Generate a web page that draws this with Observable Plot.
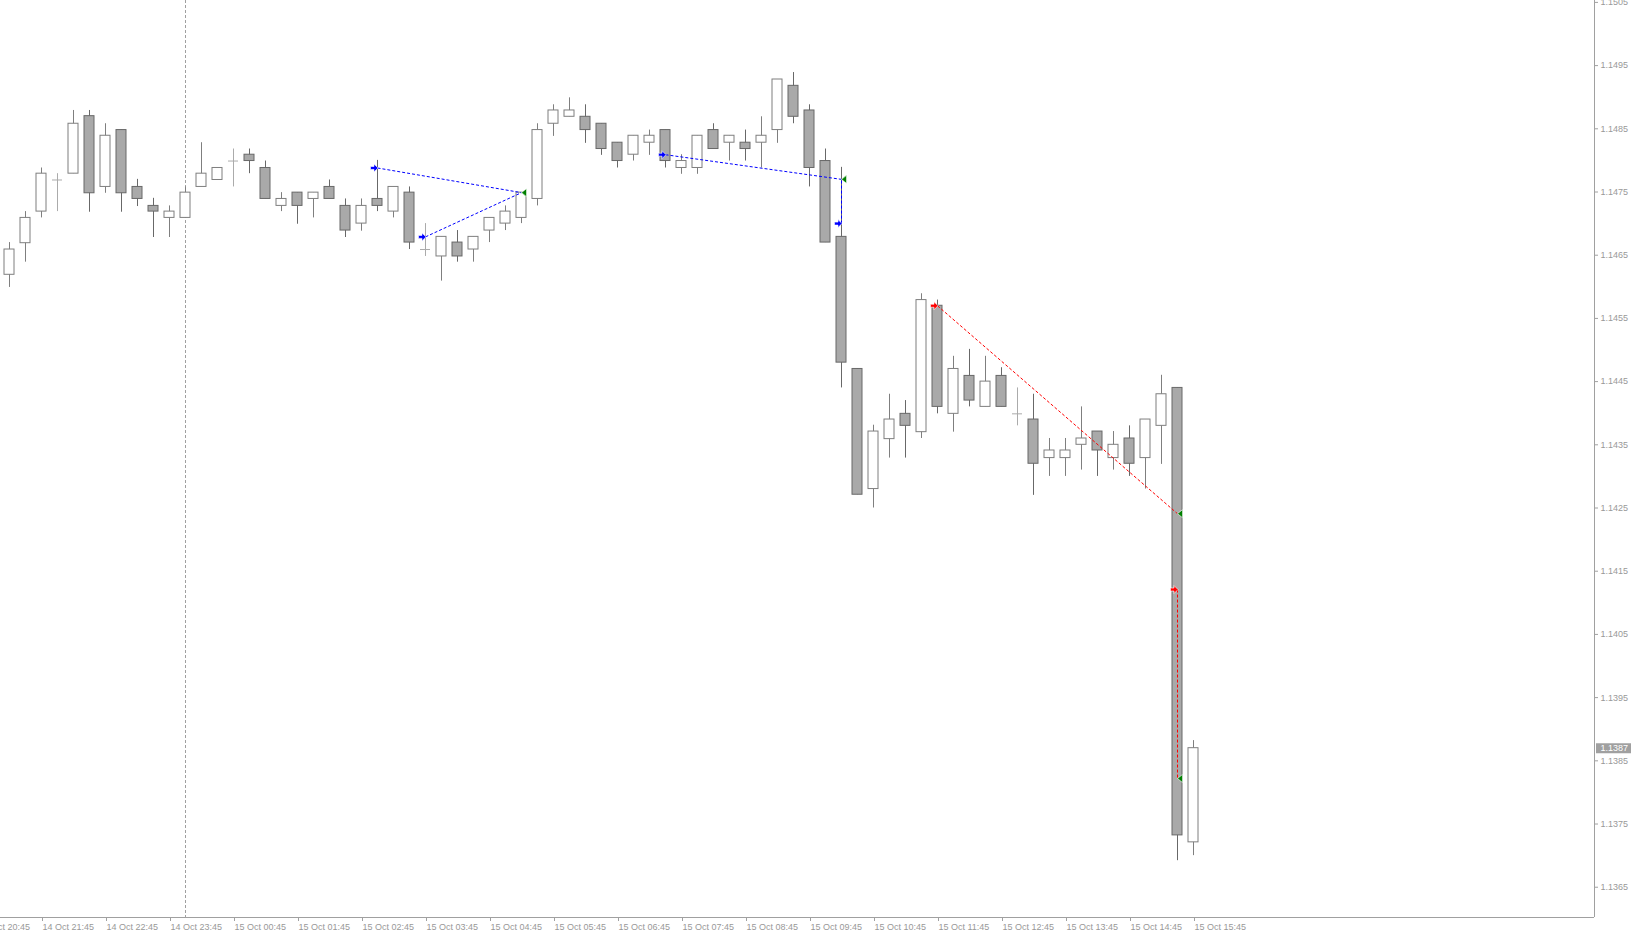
<!DOCTYPE html>
<html><head><meta charset="utf-8">
<script src="https://cdn.jsdelivr.net/npm/d3@7"></script>
<script src="https://cdn.jsdelivr.net/npm/@observablehq/plot@0.6"></script>
<style>html,body{margin:0;padding:0;background:#fff;overflow:hidden}</style>
</head><body><div id="chart"></div>
<script>
// ---- data (M15 candles, first bar 14 Oct 21:15) ----
const firstBar = "2018 14 Oct 21:15";
const barMinutes = 15;
const open  = [1.14619,1.14669,1.14719,1.14769,1.14779,1.14870,1.14758,1.14848,1.14758,1.14728,
               1.14709,1.14709,1.14758,1.14769,1.14799,1.14809,1.14788,1.14728,1.14749,1.14739,
               1.14758,1.14728,1.14700,1.14739,1.14719,1.14749,1.14659,1.14648,1.14670,1.14659,
               1.14689,1.14700,1.14709,1.14739,1.14858,1.14869,1.14869,1.14858,1.14828,1.14809,
               1.14828,1.14848,1.14788,1.14788,1.14848,1.14828,1.14828,1.14828,1.14848,1.14918,
               1.14879,1.14799,1.14679,1.14470,1.14280,1.14359,1.14399,1.14370,1.14570,1.14399,
               1.14459,1.14410,1.14459,1.14399,1.14390,1.14329,1.14329,1.14350,1.14371,1.14329,
               1.14360,1.14329,1.14380,1.14440,1.13721];
const high  = [1.14670,1.14719,1.14788,1.14779,1.14879,1.14879,1.14858,1.14848,1.14770,1.14740,
               1.14728,1.14758,1.14828,1.14788,1.14818,1.14818,1.14799,1.14749,1.14749,1.14749,
               1.14769,1.14739,1.14739,1.14800,1.14758,1.14758,1.14700,1.14679,1.14689,1.14679,
               1.14709,1.14728,1.14749,1.14858,1.14888,1.14899,1.14888,1.14858,1.14828,1.14839,
               1.14848,1.14848,1.14809,1.14839,1.14858,1.14839,1.14848,1.14869,1.14928,1.14939,
               1.14888,1.14818,1.14789,1.14470,1.14381,1.14430,1.14420,1.14589,1.14579,1.14490,
               1.14501,1.14490,1.14472,1.14440,1.14430,1.14360,1.14360,1.14410,1.14371,1.14371,
               1.14380,1.14390,1.14460,1.14440,1.13882];
const low   = [1.14599,1.14639,1.14709,1.14719,1.14779,1.14718,1.14748,1.14718,1.14727,1.14678,
               1.14678,1.14709,1.14758,1.14769,1.14758,1.14779,1.14739,1.14719,1.14699,1.14709,
               1.14739,1.14678,1.14688,1.14719,1.14709,1.14659,1.14648,1.14609,1.14639,1.14639,
               1.14670,1.14689,1.14700,1.14728,1.14838,1.14869,1.14827,1.14808,1.14788,1.14799,
               1.14808,1.14788,1.14778,1.14778,1.14818,1.14799,1.14799,1.14788,1.14827,1.14858,
               1.14758,1.14670,1.14440,1.14271,1.14250,1.14329,1.14329,1.14360,1.14399,1.14370,
               1.14410,1.14410,1.14410,1.14380,1.14270,1.14300,1.14300,1.14310,1.14300,1.14310,
               1.14300,1.14280,1.14319,1.13692,1.13700];
const close = [1.14659,1.14709,1.14779,1.14769,1.14858,1.14748,1.14839,1.14748,1.14739,1.14719,
               1.14719,1.14749,1.14779,1.14788,1.14799,1.14799,1.14739,1.14739,1.14728,1.14749,
               1.14739,1.14689,1.14728,1.14728,1.14758,1.14670,1.14659,1.14679,1.14648,1.14679,
               1.14709,1.14719,1.14749,1.14848,1.14879,1.14879,1.14848,1.14818,1.14799,1.14839,
               1.14839,1.14799,1.14799,1.14839,1.14818,1.14839,1.14818,1.14839,1.14928,1.14869,
               1.14788,1.14670,1.14480,1.14271,1.14371,1.14390,1.14380,1.14579,1.14410,1.14470,
               1.14420,1.14450,1.14410,1.14399,1.14320,1.14341,1.14341,1.14360,1.14341,1.14350,
               1.14320,1.14390,1.14430,1.13732,1.13870];

// trades: open arrow -> close arrow
const tradeOpenTime   = ["15 Oct 03:00","15 Oct 03:45","15 Oct 07:30","15 Oct 10:15","15 Oct 11:45","15 Oct 15:30"];
const tradeOpenPrice  = [1.14788,1.14679,1.14809,1.14700,1.14570,1.14121];
const tradeCloseTime  = ["15 Oct 05:15","15 Oct 05:15","15 Oct 10:15","15 Oct 10:15","15 Oct 15:30","15 Oct 15:30"];
const tradeClosePrice = [1.14749,1.14749,1.14770,1.14770,1.14241,1.13822];
const tradeSide       = ["buy","buy","buy","buy","sell","sell"];

const timeTicks = ["14 Oct 20:45","14 Oct 21:45","14 Oct 22:45","14 Oct 23:45","15 Oct 00:45","15 Oct 01:45",
  "15 Oct 02:45","15 Oct 03:45","15 Oct 04:45","15 Oct 05:45","15 Oct 06:45","15 Oct 07:45","15 Oct 08:45",
  "15 Oct 09:45","15 Oct 10:45","15 Oct 11:45","15 Oct 12:45","15 Oct 13:45","15 Oct 14:45","15 Oct 15:45"];
const priceTicks = [1.1505,1.1495,1.1485,1.1475,1.1465,1.1455,1.1445,1.1435,1.1425,1.1415,1.1405,1.1395,1.1385,1.1375,1.1365];
const daySeparator = "15 Oct 00:00";
const priceDomain = [1.136021, 1.150530];

// ---- layout ----
const W = 1631, H = 934, mRight = 37, mBottom = 17;
const barPx = 16, firstBarPx = 9;
const parse = s => d3.utcParse("%Y %d %b %H:%M")(s.startsWith("20") ? s : "2018 " + s);
const t0 = parse(firstBar);
const stepMs = barMinutes * 60000;
const msPerPx = stepMs / barPx;
const xStart = new Date(+t0 - firstBarPx * msPerPx);
const xEnd = new Date(+xStart + (W - mRight) * msPerPx);
const half = 5 * msPerPx;

const candles = open.map((o, i) => ({t: d3.utcMinute.offset(t0, barMinutes * i), o, h: high[i], l: low[i], c: close[i]}));
const bulls = candles.filter(d => d.c > d.o), bears = candles.filter(d => d.c < d.o), dojis = candles.filter(d => d.c === d.o);
const trades = tradeOpenTime.map((s, i) => ({t1: parse(s), p1: tradeOpenPrice[i], t2: parse(tradeCloseTime[i]), p2: tradeClosePrice[i], side: tradeSide[i]}));

const arrowRight = {draw(ctx) { ctx.moveTo(0.5,0); ctx.lineTo(-3.5,-4); ctx.lineTo(-3.5,-1.5); ctx.lineTo(-7,-1.5); ctx.lineTo(-7,1.5); ctx.lineTo(-3.5,1.5); ctx.lineTo(-3.5,4); ctx.closePath(); }};
const triLeft = {draw(ctx) { ctx.moveTo(0,0); ctx.lineTo(5,-4); ctx.lineTo(5,4); ctx.closePath(); }};

const BULL = "#7f7f7f", BEAR = "#686868", BEARFILL = "#a9a9a9", DOJI = "#ababab", AXIS = "#a0a0a0", TXT = "#999";
const lastPrice = close[close.length - 1];

const chart = Plot.plot({
  width: W, height: H, marginLeft: 0, marginTop: 0, marginRight: mRight, marginBottom: mBottom,
  style: {fontFamily: "'Liberation Sans', Arial, sans-serif", fontSize: "9px", background: "#fff"},
  x: {type: "utc", domain: [xStart, xEnd], axis: null},
  y: {domain: priceDomain, axis: null},
  marks: [
    Plot.ruleX([parse(daySeparator)], {stroke: AXIS, strokeDasharray: "3,2"}),
    Plot.ruleX(bulls, {x: "t", y1: "l", y2: "h", stroke: BULL}),
    Plot.ruleX(bears, {x: "t", y1: "l", y2: "h", stroke: BEAR}),
    Plot.ruleX(dojis, {x: "t", y1: "l", y2: "h", stroke: DOJI}),
    Plot.rect(bulls, {x1: d => new Date(+d.t - half), x2: d => new Date(+d.t + half), y1: "o", y2: "c", fill: "white", stroke: BULL}),
    Plot.rect(bears, {x1: d => new Date(+d.t - half), x2: d => new Date(+d.t + half), y1: "o", y2: "c", fill: BEARFILL, stroke: BEAR}),
    Plot.ruleY(dojis, {x1: d => new Date(+d.t - half), x2: d => new Date(+d.t + half), y: "c", stroke: DOJI}),
    Plot.link(trades, {x1: "t1", y1: "p1", x2: "t2", y2: "p2", stroke: d => d.side === "buy" ? "#0000ff" : "#ff0000", strokeDasharray: "3,2", strokeWidth: 1}),
    Plot.dot(trades, {x: "t1", y: "p1", symbol: arrowRight, r: 4, fill: d => d.side === "buy" ? "#0000ff" : "#ff0000", stroke: "white", strokeWidth: 0.6}),
    Plot.dot(trades, {x: "t2", y: "p2", symbol: triLeft, r: 4, fill: "#008000", stroke: "white", strokeWidth: 0.6}),
    Plot.ruleY([priceDomain[0]], {stroke: AXIS}),
    Plot.ruleX([xEnd], {stroke: AXIS}),
    Plot.axisY(priceTicks, {anchor: "right", tickSize: 3, tickPadding: 3, tickFormat: d3.format(".4f"), stroke: AXIS, fill: TXT, label: null}),
    Plot.axisX(timeTicks.map(parse), {anchor: "bottom", tickSize: 4, tickPadding: 2, tickFormat: d3.utcFormat("%d %b %H:%M"), textAnchor: "start", dx: 1, stroke: AXIS, fill: TXT, label: null}),
    Plot.ruleY([lastPrice], {x1: new Date(+xEnd + 2 * msPerPx), x2: new Date(+xEnd + mRight * msPerPx), stroke: "#a0a0a0", strokeWidth: 10}),
    Plot.text([lastPrice], {x: xEnd, y: d => d, dx: 6, textAnchor: "start", fill: "white", text: d => d3.format(".4f")(d)})
  ]
});
document.getElementById("chart").appendChild(chart);
</script>
</body></html>
